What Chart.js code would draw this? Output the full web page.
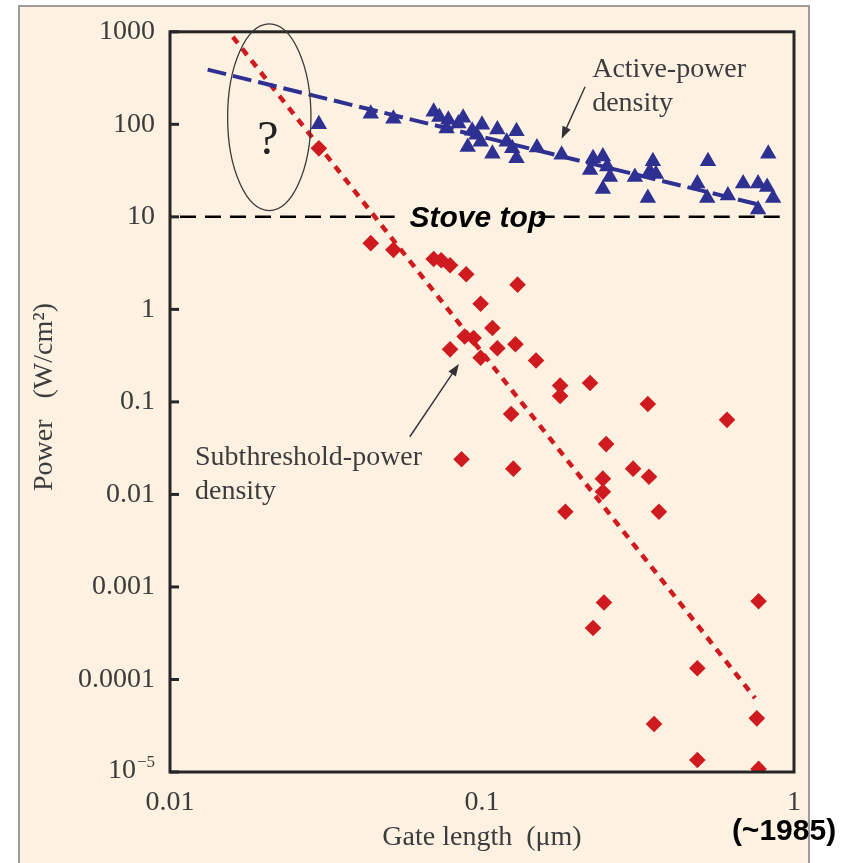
<!DOCTYPE html>
<html><head><meta charset="utf-8">
<script src="https://cdn.jsdelivr.net/npm/chart.js@4/dist/chart.umd.min.js"></script>
<style>html,body{margin:0;padding:0;background:#fff;overflow:hidden}canvas{display:block}</style>
</head><body>
<canvas id="c" width="844" height="863"></canvas>
<script>
// ---- data ----
const xTickValues = [0.01, 0.1, 1];
const xTickLabels = ['0.01', '0.1', '1'];
const yTickValues = [1000, 100, 10, 1, 0.1, 0.01, 0.001, 0.0001, 0.00001];
const yTickLabels = ['1000', '100', '10', '1', '0.1', '0.01', '0.001', '0.0001', ''];

const activeX = [0.030,0.044,0.052,0.070,0.078,0.084,0.087,0.077,0.100,0.112,0.129,0.090,0.099,0.108,0.125,0.129,0.150,0.096,0.120,0.180,0.227,0.244,0.222,0.252,0.257,0.244,0.309,0.353,0.345,0.361,0.340,0.53,0.49,0.527,0.614,0.687,0.767,0.82,0.857,0.827,0.767,0.073,0.093];
const activeY = [100,130,115,137,112,102,118,90,99,88,84,57,65,48,55,43,56,77,65,47,43,45,32,35,27,20,27,40,31,29,16,40,23,16,17,23,23,21,16,48,12,120,85];

const subX = [0.030,0.044,0.052,0.070,0.074,0.079,0.089,0.13,0.099,0.108,0.088,0.094,0.079,0.112,0.128,0.099,0.149,0.178,0.222,0.178,0.34,0.61,0.124,0.25,0.086,0.126,0.305,0.244,0.343,0.244,0.185,0.369,0.246,0.227,0.77,0.49,0.356,0.76,0.49,0.77];
const subY = [55,5.2,4.4,3.5,3.4,3.0,2.4,1.85,1.15,0.63,0.51,0.49,0.37,0.38,0.42,0.30,0.28,0.15,0.16,0.116,0.095,0.064,0.074,0.035,0.024,0.019,0.019,0.0148,0.0155,0.0107,0.0065,0.0065,0.00068,0.00036,0.0007,0.000132,0.000033,0.000038,0.0000135,0.0000108];

const activeFitX = [0.0132, 0.79];
const activeFitY = [390, 13.3];
const subFitX = [0.0159, 0.75];
const subFitY = [880, 0.000063];
const stoveTop = 10;

// ---- style ----
const BG = 'rgb(253,242,226)';
const BLUE = '#2e3192';
const RED = '#cf1a1f';
const SERIF = '"Liberation Serif","Times New Roman",serif';
const SANS = '"Liberation Sans",Arial,sans-serif';
const TXT = '#3c3c3c';

const zip = (xs, ys) => xs.map((x, i) => ({x, y: ys[i]}));

function arrow(c, x1, y1, x2, y2) {
  const a = Math.atan2(y2 - y1, x2 - x1);
  const L = 12, W = 4.5;
  c.beginPath(); c.moveTo(x1, y1);
  c.lineTo(x2 - Math.cos(a) * L * 0.8, y2 - Math.sin(a) * L * 0.8); c.stroke();
  c.beginPath();
  c.moveTo(x2, y2);
  c.lineTo(x2 - Math.cos(a) * L - Math.sin(a) * W, y2 - Math.sin(a) * L + Math.cos(a) * W);
  c.lineTo(x2 - Math.cos(a) * L + Math.sin(a) * W, y2 - Math.sin(a) * L - Math.cos(a) * W);
  c.closePath(); c.fill();
}

const deco = {
  id: 'deco',
  beforeDraw(chart) {
    const c = chart.ctx; c.save();
    c.fillStyle = '#fff'; c.fillRect(0, 0, chart.width, chart.height);
    c.fillStyle = BG; c.fillRect(19, 6, 790, 880);
    c.strokeStyle = '#9c9c9c'; c.lineWidth = 2; c.strokeRect(19, 6, 790, 880);
    c.restore();
  },
  beforeDatasetsDraw(chart) {
    const c = chart.ctx, xs = chart.scales.x, ys = chart.scales.y;
    const a = chart.chartArea;
    c.save();
    const sy = ys.getPixelForValue(stoveTop);
    c.strokeStyle = '#000'; c.lineWidth = 2.5; c.setLineDash([16, 9]);
    c.beginPath(); c.moveTo(a.left + 10, sy); c.lineTo(xs.getPixelForValue(0.0525), sy); c.stroke();
    c.beginPath(); c.moveTo(xs.getPixelForValue(0.152), sy); c.lineTo(xs.getPixelForValue(0.935), sy); c.stroke();
    c.setLineDash([]);
    c.fillStyle = '#000'; c.font = 'italic bold 30px ' + SANS;
    c.textAlign = 'center'; c.textBaseline = 'middle';
    c.fillText('Stove top', xs.getPixelForValue(0.097), sy + 2);
    c.restore();
  },
  afterDatasetsDraw(chart) {
    const c = chart.ctx, xs = chart.scales.x, ys = chart.scales.y;
    const a = chart.chartArea;
    c.save();
    c.strokeStyle = '#262626'; c.lineWidth = 3;
    c.strokeRect(a.left, a.top, a.right - a.left, a.bottom - a.top);
    yTickValues.forEach(v => {
      const p = ys.getPixelForValue(v);
      c.beginPath(); c.moveTo(a.left, p); c.lineTo(a.left + 9, p); c.stroke();
    });
    const p5 = ys.getPixelForValue(0.00001);
    c.fillStyle = TXT; c.textAlign = 'right'; c.textBaseline = 'middle';
    c.font = '17px ' + SERIF; c.fillText('\u22125', a.left - 15, p5 - 9);
    const w5 = c.measureText('\u22125').width;
    c.font = '28px ' + SERIF; c.fillText('10', a.left - 16 - w5, p5 - 1);
    const ex1 = xs.getPixelForValue(0.0153), ex2 = xs.getPixelForValue(0.0283);
    const ey1 = ys.getPixelForValue(1220), ey2 = ys.getPixelForValue(11.7);
    c.strokeStyle = '#3a3a3a'; c.lineWidth = 1.3;
    c.beginPath();
    c.ellipse((ex1 + ex2) / 2, (ey1 + ey2) / 2, (ex2 - ex1) / 2, (ey2 - ey1) / 2, 0, 0, Math.PI * 2);
    c.stroke();
    c.fillStyle = '#222'; c.textAlign = 'center'; c.font = '48px ' + SERIF;
    c.fillText('?', xs.getPixelForValue(0.0206), ys.getPixelForValue(65));
    c.fillStyle = TXT; c.textAlign = 'left'; c.font = '28px ' + SERIF;
    c.fillText('Active-power', xs.getPixelForValue(0.2255), ys.getPixelForValue(389));
    c.fillText('density', xs.getPixelForValue(0.2255), ys.getPixelForValue(167));
    c.fillText('Subthreshold-power', xs.getPixelForValue(0.01203), ys.getPixelForValue(0.0249));
    c.fillText('density', xs.getPixelForValue(0.01203), ys.getPixelForValue(0.0107));
    c.strokeStyle = '#333'; c.fillStyle = '#333'; c.lineWidth = 1.4;
    arrow(c, xs.getPixelForValue(0.214), ys.getPixelForValue(255), xs.getPixelForValue(0.180), ys.getPixelForValue(70));
    arrow(c, xs.getPixelForValue(0.0587), ys.getPixelForValue(0.042), xs.getPixelForValue(0.0843), ys.getPixelForValue(0.257));
    c.fillStyle = TXT; c.textAlign = 'center'; c.textBaseline = 'middle'; c.font = '28px ' + SERIF;
    c.fillText('Gate length  (\u03bcm)', (a.left + a.right) / 2, 838);
    c.save(); c.translate(45, 397); c.rotate(-Math.PI / 2);
    c.fillText('Power   (W/cm\u00b2)', 0, 0);
    c.restore();
    c.fillStyle = '#000'; c.font = 'bold 30px ' + SANS;
    c.fillText('(~1985)', 784, 832);
    c.restore();
  }
};

new Chart(document.getElementById('c'), {
  type: 'scatter',
  data: {
    datasets: [
      { type: 'line', data: zip(activeFitX, activeFitY), borderColor: BLUE, borderWidth: 4, borderDash: [19, 7], pointRadius: 0, fill: false, order: 0 },
      { type: 'line', data: zip(subFitX, subFitY), borderColor: RED, borderWidth: 4.5, borderDash: [8, 7], pointRadius: 0, fill: false, order: 0 },
      { label: 'Active-power density', data: zip(activeX, activeY), pointStyle: 'triangle', pointRadius: 9.5, backgroundColor: BLUE, borderWidth: 0, order: 1 },
      { label: 'Subthreshold-power density', data: zip(subX, subY), pointStyle: 'rectRot', pointRadius: 8.3, backgroundColor: RED, borderWidth: 0, order: 1 }
    ]
  },
  options: {
    responsive: false, animation: false, devicePixelRatio: 1,
    layout: { padding: { left: 0, top: 30, right: 50, bottom: 0 } },
    plugins: { legend: { display: false }, tooltip: { enabled: false } },
    scales: {
      x: {
        type: 'logarithmic', min: 0.01, max: 1,
        afterBuildTicks: s => { s.ticks = xTickValues.map(v => ({ value: v })); },
        afterFit: s => { s.height = 91; },
        grid: { display: false, drawTicks: false }, border: { display: false },
        ticks: { autoSkip: false, maxRotation: 0, padding: 14, color: TXT, font: { family: SERIF, size: 28 },
          callback: (v, i) => xTickLabels[i] }
      },
      y: {
        type: 'logarithmic', min: 0.00001, max: 1000,
        afterBuildTicks: s => { s.ticks = yTickValues.map(v => ({ value: v })); },
        afterFit: s => { s.width = 170; },
        grid: { display: false, drawTicks: false }, border: { display: false },
        ticks: { autoSkip: false, padding: 15, color: TXT, font: { family: SERIF, size: 28 },
          callback: (v, i) => yTickLabels[i] }
      }
    }
  },
  plugins: [deco]
});
</script>
</body></html>
